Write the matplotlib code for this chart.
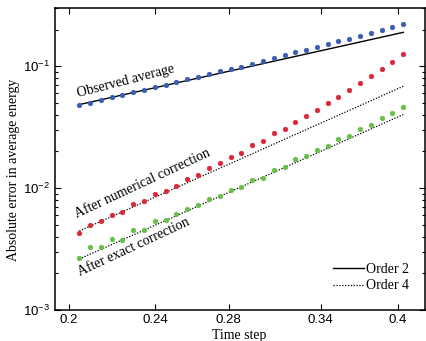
import matplotlib
matplotlib.use("Agg")
import matplotlib.pyplot as plt
from matplotlib.lines import Line2D
from matplotlib.ticker import FixedLocator, FixedFormatter, LogLocator, NullLocator

# time steps (log spaced)
h = [0.2044, 0.2091, 0.2139, 0.2189, 0.2239, 0.2291, 0.2343, 0.2397, 0.2453, 0.2509,
     0.2567, 0.2626, 0.2687, 0.2748, 0.2812, 0.2876, 0.2943, 0.3010, 0.3080, 0.3151,
     0.3223, 0.3297, 0.3373, 0.3451, 0.3530, 0.3612, 0.3695, 0.3780, 0.3867, 0.3956,
     0.4048]

observed = [0.0479, 0.0504, 0.0530, 0.0557, 0.0583, 0.0612, 0.0644, 0.0678, 0.0708, 0.0745,
            0.0782, 0.0823, 0.0866, 0.0910, 0.0952, 0.0994, 0.1052, 0.1107, 0.1172, 0.1231,
            0.1302, 0.1363, 0.1442, 0.1515, 0.1603, 0.1687, 0.1785, 0.1878, 0.1988, 0.2104,
            0.2239]

numerical = [0.00425, 0.00501, 0.00533, 0.00605, 0.00632, 0.00739, 0.00778, 0.00900, 0.00952, 0.0105,
             0.0119, 0.0128, 0.0145, 0.0160, 0.0181, 0.0195, 0.0224, 0.0243, 0.0282, 0.0307,
             0.0352, 0.0392, 0.0442, 0.0497, 0.0564, 0.0636, 0.0731, 0.0828, 0.0952, 0.1093,
             0.1254]

exact = [0.00269, 0.00328, 0.00327, 0.00385, 0.00375, 0.00453, 0.00456, 0.00536, 0.00547, 0.00612,
         0.00678, 0.00721, 0.00819, 0.00866, 0.00963, 0.0103, 0.0116, 0.0122, 0.0142, 0.0150,
         0.0172, 0.0182, 0.0205, 0.0220, 0.0251, 0.0267, 0.0305, 0.0328, 0.0373, 0.0410,
         0.0461]

# reference slope lines: value at first and last time step
ref2 = [0.0485, 0.190]
ref4_num = [0.00445, 0.0686]
ref4_exact = [0.00262, 0.0402]

xticks = [0.2, 0.24, 0.28, 0.34, 0.4]
xticklabels = ["0.2", "0.24", "0.28", "0.34", "0.4"]

serif = ["Liberation Serif", "DejaVu Serif"]
plt.rcParams["font.family"] = ["Liberation Sans", "DejaVu Sans"]
plt.rcParams["mathtext.fontset"] = "custom"
plt.rcParams["mathtext.rm"] = "Liberation Sans"

fig = plt.figure(figsize=(4.26, 3.41), dpi=100)
ax = fig.add_axes([55 / 426, 31 / 341, 370.5 / 426, 302 / 341])

blue = "#3a5db0"
red = "#d9283a"
green = "#66c048"
ms = 3.4

ax.plot([h[0], h[-1]], ref2, color="black", lw=1.0, ls="-")
ax.plot([h[0], h[-1]], ref4_num, color="black", lw=0.9, ls=(0, (1, 1.3)))
ax.plot([h[0], h[-1]], ref4_exact, color="black", lw=0.9, ls=(0, (1, 1.3)))

ax.plot(h, observed, "o", color=blue, ms=ms, mec=blue, mew=0.4)
ax.plot(h, numerical, "o", color=red, ms=ms, mec=red, mew=0.4)
ax.plot(h, exact, "o", color=green, ms=ms, mec=green, mew=0.4)

ax.set_xscale("log")
ax.set_yscale("log")
ax.set_xlim(0.1942, 0.4242)
ax.set_ylim(1e-3, 0.301)

ax.xaxis.set_major_locator(FixedLocator(xticks))
ax.xaxis.set_major_formatter(FixedFormatter(xticklabels))
ax.xaxis.set_minor_locator(NullLocator())
ax.yaxis.set_major_locator(LogLocator(base=10, numticks=10))
ax.yaxis.set_minor_locator(LogLocator(base=10, subs=range(2, 10), numticks=20))

ax.tick_params(which="both", direction="in", top=True, right=True, labelsize=9.5, width=0.8)
ax.tick_params(which="major", length=4)
ax.tick_params(which="minor", length=2)
ax.tick_params(axis="x", pad=3)
for s in ax.spines.values():
    s.set_linewidth(1.1)

ax.set_xlabel("Time step", family=serif, fontsize=10)
ax.set_ylabel("Absolute error in average energy", family=serif, fontsize=10)
ax.xaxis.set_label_coords(0.497, -0.062)
ax.yaxis.set_label_coords(-0.095, 0.465)

ax.text(0.2040, 0.0559, "Observed average", family=serif, fontsize=10,
        rotation=14.5, rotation_mode="anchor", ha="left", va="baseline")
ax.text(0.2035, 0.00570, "After numerical correction", family=serif, fontsize=10,
        rotation=25, rotation_mode="anchor", ha="left", va="baseline")
ax.text(0.2045, 0.00189, "After exact correction", family=serif, fontsize=10,
        rotation=25, rotation_mode="anchor", ha="left", va="baseline")

handles = [Line2D([], [], color="black", lw=1.0, ls="-"),
           Line2D([], [], color="black", lw=0.9, ls=(0, (1, 1.3)))]
ax.legend(handles, ["Order 2", "Order 4"], loc="lower right", bbox_to_anchor=(0.975, 0.035),
          frameon=False, prop={"family": serif, "size": 10}, handlelength=2.2,
          handletextpad=0.2, borderpad=0, labelspacing=0.25)

fig.savefig("out.png", dpi=100)
